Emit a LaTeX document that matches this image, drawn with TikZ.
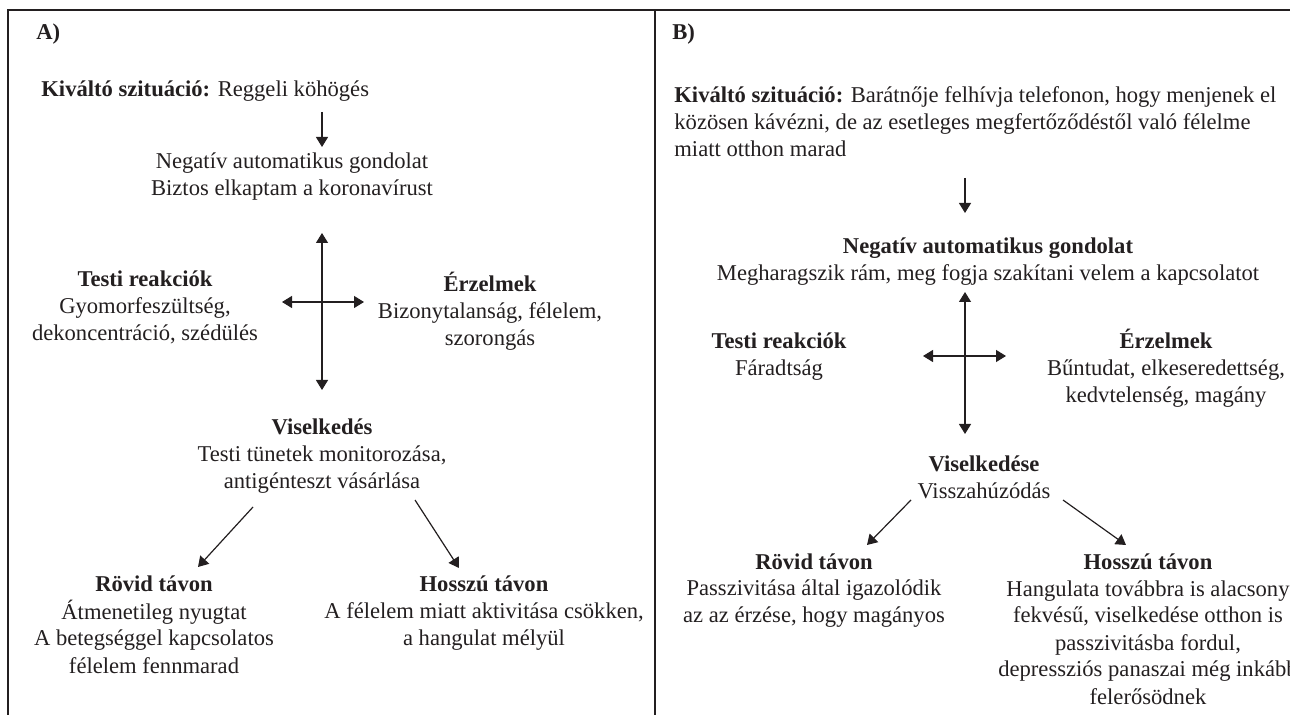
\documentclass[tikz,border=0pt]{standalone}
\usepackage{fontspec}
\setmainfont{Liberation Serif}
\usetikzlibrary{arrows.meta}
\definecolor{ink}{RGB}{35,31,32}

\begin{document}
\begin{tikzpicture}[x=0.5pt,y=-0.5pt,
    text node/.style={align=center,inner sep=0pt,anchor=base,text=ink,font=\fontsize{11.3}{13.5}\selectfont},
    side node/.style={text node,align=left,anchor=base west},
    link/.style={draw=ink,line width=0.6pt,-{Triangle[length=5pt,width=6pt]}},
    two way/.style={link,{Triangle[length=5pt,width=6pt]}-{Triangle[length=5pt,width=6pt]}}]
    \useasboundingbox (0,0) rectangle (1290,715);

    % frame
    \draw[ink,line width=1pt] (8,715) -- (8,10) -- (1290,10);
    \draw[ink,line width=1pt] (655,10) -- (655,715);

    % panel A (nodes sit on the baseline of their last line)
    \node[side node] at (36, 40) (labelA) {\textbf{A)}};
    \node[side node] at (41, 97) (trigA) {\textbf{Kiváltó szituáció:} Reggeli köhögés};
    \node[text node] at (292, 196) (thoughtA) {Negatív automatikus gondolat\\Biztos elkaptam a koronavírust};
    \node[text node] at (145, 341) (bodyA) {\textbf{Testi reakciók}\\Gyomorfeszültség,\\dekoncentráció, szédülés};
    \node[text node] at (490, 346) (emoA) {\textbf{Érzelmek}\\Bizonytalanság, félelem,\\szorongás};
    \node[text node] at (322, 489) (behA) {\textbf{Viselkedés}\\Testi tünetek monitorozása,\\antigénteszt vásárlása};
    \node[text node] at (154, 673) (shortA) {\textbf{Rövid távon}\\Átmenetileg nyugtat\\A betegséggel kapcsolatos\\félelem fennmarad};
    \node[text node] at (484, 646) (longA) {\textbf{Hosszú távon}\\A félelem miatt aktivitása csökken,\\a hangulat mélyül};

    \coordinate (downA1) at (322,112);  \coordinate (downA2) at (322,147);
    \coordinate (upA) at (322,233);     \coordinate (lowA) at (322,390);
    \coordinate (leftA) at (282,302);   \coordinate (rightA) at (364,302);
    \coordinate (splitA1) at (253,507); \coordinate (tipA1) at (198,567);
    \coordinate (splitA2) at (415,500); \coordinate (tipA2) at (459,568);

    \path (downA1) edge[link] (downA2)
          (upA) edge[two way] (lowA)
          (leftA) edge[two way] (rightA)
          (splitA1) edge[link] (tipA1)
          (splitA2) edge[link] (tipA2);

    % panel B
    \node[side node] at (672, 40) (labelB) {\textbf{B)}};
    \node[side node] at (674, 157) (trigB) {\textbf{Kiváltó szituáció:} Barátnője felhívja telefonon, hogy menjenek el\\közösen kávézni, de az esetleges megfertőződéstől való félelme\\miatt otthon marad};
    \node[text node] at (988, 281) (thoughtB) {\textbf{Negatív automatikus gondolat}\\Megharagszik rám, meg fogja szakítani velem a kapcsolatot};
    \node[text node] at (779, 376) (bodyB) {\textbf{Testi reakciók}\\Fáradtság};
    \node[text node] at (1166, 403) (emoB) {\textbf{Érzelmek}\\Bűntudat, elkeseredettség,\\kedvtelenség, magány};
    \node[text node] at (984, 499) (behB) {\textbf{Viselkedése}\\Visszahúzódás};
    \node[text node] at (814, 623) (shortB) {\textbf{Rövid távon}\\Passzivitása által igazolódik\\az az érzése, hogy magányos};
    \node[text node] at (1148, 704) (longB) {\textbf{Hosszú távon}\\Hangulata továbbra is alacsony\\fekvésű, viselkedése otthon is\\passzivitásba fordul,\\depressziós panaszai még inkább\\felerősödnek};

    \coordinate (downB1) at (965,178);  \coordinate (downB2) at (965,213);
    \coordinate (upB) at (965,292);     \coordinate (lowB) at (965,434);
    \coordinate (leftB) at (923,356);   \coordinate (rightB) at (1006,356);
    \coordinate (splitB1) at (911,500); \coordinate (tipB1) at (867,545);
    \coordinate (splitB2) at (1063,500); \coordinate (tipB2) at (1126,545);

    \path (downB1) edge[link] (downB2)
          (upB) edge[two way] (lowB)
          (leftB) edge[two way] (rightB)
          (splitB1) edge[link] (tipB1)
          (splitB2) edge[link] (tipB2);
\end{tikzpicture}
\end{document}
